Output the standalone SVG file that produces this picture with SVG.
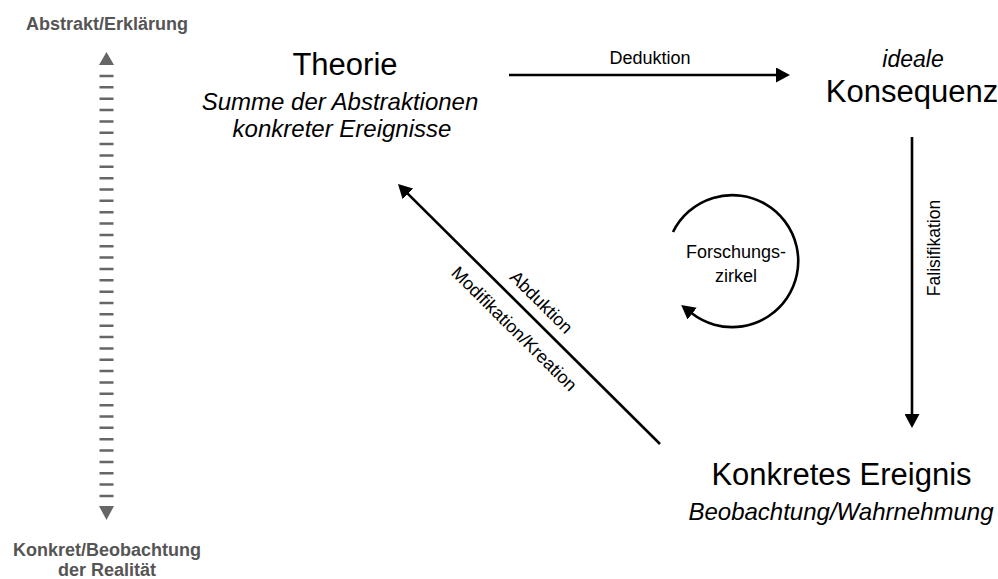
<svg xmlns="http://www.w3.org/2000/svg" width="998" height="579" viewBox="0 0 998 579">
<style>
text{font-family:"Liberation Sans",Arial,sans-serif;fill:#000}
.scale{font-weight:bold;font-size:18px;fill:#555;text-anchor:middle}
.head{font-size:31px;text-anchor:middle}
.sub{font-size:24px;font-style:italic;text-anchor:middle}
.lbl{font-size:17.5px;text-anchor:middle}
.con{stroke:#000;stroke-width:2.6;fill:none;marker-end:url(#ah)}
</style>
<defs>
<marker id="ah" viewBox="0 0 14 15" refX="1" refY="7.5" markerWidth="14" markerHeight="15" markerUnits="userSpaceOnUse" orient="auto">
<path d="M0,0 L14,7.5 L0,15 z" fill="#000"/>
</marker>
</defs>
<rect width="998" height="579" fill="#fff"/>
<g id="scale">
<text class="scale" x="107" y="30">Abstrakt/Erklärung</text>
<path d="M106.5,52 L114,65 L99,65 z" fill="#666"/>
<line x1="106.5" y1="74.75" x2="106.5" y2="500" stroke="#666" stroke-width="14" stroke-dasharray="2.5 8.85"/>
<path d="M99,506 L114,506 L106.5,520 z" fill="#666"/>
<text class="scale" x="107" y="556">Konkret/Beobachtung</text>
<text class="scale" x="107" y="576">der Realität</text>
</g>
<g id="theorie">
<text class="head" x="345" y="75">Theorie</text>
<text class="sub" x="340" y="110">Summe der Abstraktionen</text>
<text class="sub" x="342" y="137">konkreter Ereignisse</text>
</g>
<g id="konsequenz">
<text class="sub" x="913" y="67" style="font-size:23px">ideale</text>
<text class="head" x="912" y="102">Konsequenz</text>
</g>
<g id="ereignis">
<text class="head" x="841.5" y="485">Konkretes Ereignis</text>
<text class="sub" x="841" y="520">Beobachtung/Wahrnehmung</text>
</g>
<g id="zirkel">
<path d="M673,232 A66,66 0 1 1 691.4,313" class="con"/>
<text class="lbl" x="736" y="258" style="font-size:18px">Forschungs-</text>
<text class="lbl" x="736" y="282" style="font-size:18px">zirkel</text>
</g>
<g id="connectors">
<line class="con" x1="509" y1="75" x2="777" y2="75"/>
<text class="lbl" x="650" y="64" style="font-size:18px">Deduktion</text>
<line class="con" x1="912" y1="137" x2="912" y2="415"/>
<text class="lbl" transform="translate(940,248) rotate(-90)" x="0" y="0">Falisifikation</text>
<line class="con" x1="660" y1="444" x2="407.2" y2="193.2"/>
<g transform="translate(398,184) rotate(44.78)">
<text class="lbl" x="185" y="-11" style="font-size:18px">Abduktion</text>
<text class="lbl" x="184.5" y="27" style="font-size:18px">Modifikation/Kreation</text>
</g>
</g>
</svg>
